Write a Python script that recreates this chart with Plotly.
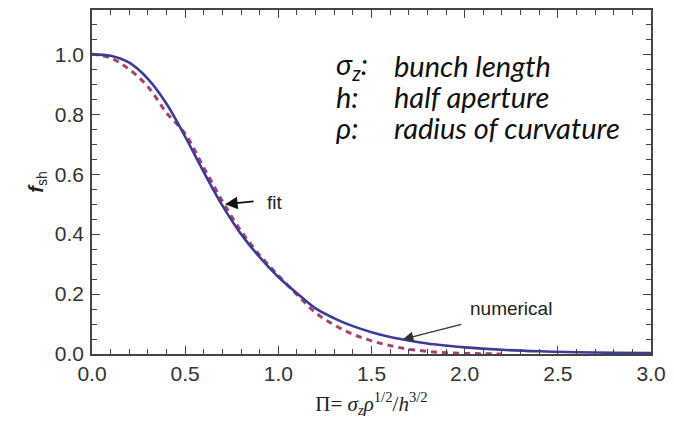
import plotly.graph_objects as go

# Numerical (solid) curve
x_num = [0.0, 0.1, 0.2, 0.3, 0.4, 0.5, 0.6, 0.7, 0.8, 0.9, 1.0, 1.1, 1.2, 1.3, 1.4,
         1.5, 1.6, 1.7, 1.8, 1.9, 2.0, 2.2, 2.4, 2.6, 2.8, 3.0]
y_num = [1.000, 0.995, 0.972, 0.918, 0.835, 0.725, 0.607, 0.495, 0.400, 0.323, 0.257,
         0.203, 0.152, 0.119, 0.093, 0.073, 0.057, 0.045, 0.035, 0.028, 0.022, 0.014,
         0.009, 0.006, 0.004, 0.003]

# Fit (dashed) curve
x_fit = [0.0, 0.1, 0.2, 0.3, 0.4, 0.5, 0.6, 0.7, 0.8, 0.9, 1.0, 1.1, 1.2, 1.3, 1.4,
         1.5, 1.6, 1.7, 1.8, 1.9, 2.0, 2.1, 2.2]
y_fit = [1.000, 0.988, 0.950, 0.892, 0.805, 0.735, 0.622, 0.510, 0.410, 0.330, 0.262,
         0.198, 0.138, 0.097, 0.066, 0.044, 0.028, 0.016, 0.009, 0.004, 0.002, 0.001,
         0.000]

x_ticks = [0.0, 0.5, 1.0, 1.5, 2.0, 2.5, 3.0]
y_ticks = [0.0, 0.2, 0.4, 0.6, 0.8, 1.0]

X_RANGE = [0, 3.0]
Y_RANGE = [0, 1.148]

fig = go.Figure()
fig.add_trace(go.Scatter(x=x_fit, y=y_fit, mode="lines", line_shape="spline",
                         line=dict(color="#a8406e", width=3, dash="6px,5px"),
                         showlegend=False, hoverinfo="skip"))
fig.add_trace(go.Scatter(x=x_num, y=y_num, mode="lines", line_shape="spline",
                         line=dict(color="#3c3c96", width=2.6),
                         showlegend=False, hoverinfo="skip"))

tick_font = dict(family="Liberation Sans, Arial", size=21, color="#333")
axis_common = dict(showgrid=False, zeroline=False, showline=True, linecolor="#444",
                   linewidth=1.5, mirror=True, ticks="inside", ticklen=8,
                   tickwidth=1.3, tickcolor="#444", tickfont=tick_font)

fig.update_layout(
    xaxis=dict(range=X_RANGE, tickvals=x_ticks, ticktext=[f"{v:.1f}" for v in x_ticks],
               minor=dict(dtick=0.1, ticks="inside", ticklen=5, tickcolor="#444", tickwidth=1.2),
               title=dict(text="Π= <i>σ<sub>z</sub>ρ</i><sup>1/2</sup>/<i>h</i><sup>3/2</sup>",
                          font=dict(family="Liberation Serif, Times New Roman", size=21, color="#222"),
                          standoff=12),
               **axis_common),
    yaxis=dict(range=Y_RANGE, tickvals=y_ticks, ticktext=[f"{v:.1f}" for v in y_ticks],
               minor=dict(dtick=0.05, ticks="inside", ticklen=5, tickcolor="#444", tickwidth=1.2),
               title=dict(text="<b><i>f</i></b><sub>sh</sub>",
                          font=dict(family="Liberation Sans, Arial", size=20, color="#222"),
                          standoff=6),
               ticklabelstandoff=2,
               **axis_common),
    # mirrored tick marks on top and right
    xaxis2=dict(range=X_RANGE, overlaying="x", side="top", matches="x", showgrid=False,
                zeroline=False, showline=False, ticks="inside", ticklen=8, tickwidth=1.3,
                tickcolor="#444", tickvals=x_ticks, showticklabels=False,
                minor=dict(dtick=0.1, ticks="inside", ticklen=5, tickcolor="#444", tickwidth=1.2)),
    yaxis2=dict(range=Y_RANGE, overlaying="y", side="right", matches="y", showgrid=False,
                zeroline=False, showline=False, ticks="inside", ticklen=8, tickwidth=1.3,
                tickcolor="#444", tickvals=y_ticks, showticklabels=False,
                minor=dict(dtick=0.05, ticks="inside", ticklen=5, tickcolor="#444", tickwidth=1.2)),
)
# invisible trace to activate overlay axes
fig.add_trace(go.Scatter(x=[None], y=[None], xaxis="x2", yaxis="y2", showlegend=False,
                         hoverinfo="skip"))

# Arrows
fig.add_annotation(x=0.714, y=0.5, ax=0.875, ay=0.51, xref="x", yref="y", axref="x", ayref="y",
                   text="", showarrow=True, arrowhead=2, arrowsize=1.4, arrowwidth=1.8,
                   arrowcolor="#111")
fig.add_annotation(x=0.98, y=0.505, xref="x", yref="y", text="fit", showarrow=False,
                   font=dict(family="Liberation Sans, Arial", size=19, color="#222"))
fig.add_annotation(x=1.669, y=0.049, ax=1.99, ay=0.10, xref="x", yref="y", axref="x", ayref="y",
                   text="", showarrow=True, arrowhead=2, arrowsize=1.6, arrowwidth=1.3,
                   arrowcolor="#333")
fig.add_annotation(x=2.25, y=0.152, xref="x", yref="y", text="numerical", showarrow=False,
                   font=dict(family="Liberation Sans, Arial", size=19, color="#222"))

# Description block
desc_font = dict(family="Lato, Open Sans", size=29, color="#111")
lines = [("<i>σ<sub>z</sub></i><i>:</i>", "<i>bunch length</i>", 0.962),
         ("<i>h:</i>", "<i>half aperture</i>", 0.858),
         ("<i>ρ:</i>", "<i>radius of curvature</i>", 0.756)]
for sym, desc, yy in lines:
    fig.add_annotation(x=1.30, y=yy, xref="x", yref="y", text=sym, showarrow=False,
                       xanchor="left", yanchor="middle", font=desc_font)
    fig.add_annotation(x=1.61, y=yy, xref="x", yref="y", text=desc, showarrow=False,
                       xanchor="left", yanchor="middle", font=desc_font)

fig.update_layout(width=674, height=422, margin=dict(l=92, r=21, t=8, b=68),
                  paper_bgcolor="white", plot_bgcolor="white")

fig.write_html("out.html")
